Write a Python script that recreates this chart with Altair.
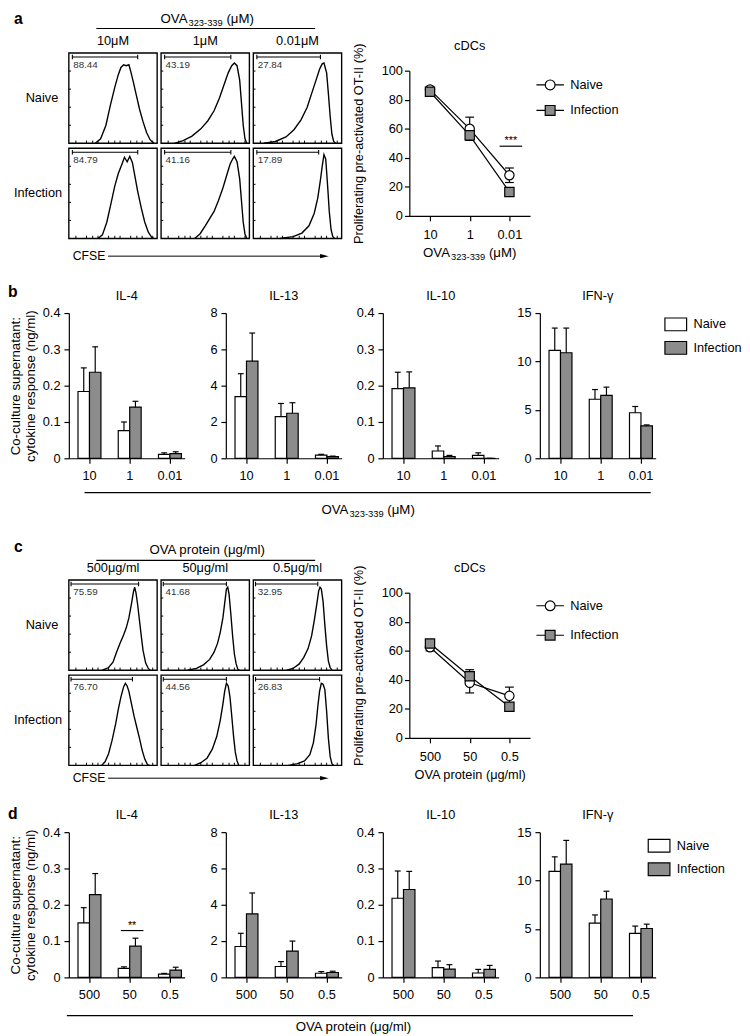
import altair as alt
import pandas as pd

FONT = "Liberation Sans"
GREY = "#8c8c8c"
LW = 1.2

# ---------------- data ----------------
groups = ["Naive", "Infection"]
pep_conc = ["10", "1", "0.01"]
prot_conc = ["500", "50", "0.5"]
pep_cols = ["10μM", "1μM", "0.01μM"]
prot_cols = ["500μg/ml", "50μg/ml", "0.5μg/ml"]
pep_main, pep_sub, pep_tail = "OVA", "323-339", "(μM)"
prot_title = "OVA protein (μg/ml)"
cytokines = ["IL-4", "IL-13", "IL-10", "IFN-γ"]
prolif_title = "Proliferating pre-activated OT-II (%)"
cyto_title = ["Co-culture supernatant:", "cytokine response (ng/ml)"]

# flow cytometry gates (% proliferating)
a_pct_naive = ["88.44", "43.19", "27.84"]
a_pct_inf = ["84.79", "41.16", "17.89"]
c_pct_naive = ["75.59", "41.68", "32.95"]
c_pct_inf = ["76.70", "44.56", "26.83"]
a_gate_start = 0.04
c_gate_start = 0.025
a_gate_naive = [0.78, 0.79, 0.76]
a_gate_inf = [0.78, 0.79, 0.74]
c_gate_naive = [0.79, 0.74, 0.73]
c_gate_inf = [0.72, 0.74, 0.75]
cfse_ticks = [0.08, 0.2, 0.27, 0.33, 0.45, 0.52, 0.58, 0.7, 0.77, 0.83, 0.95]
count_ticks = [0.2, 0.4, 0.6, 0.8]

# CFSE histograms (normalised position, normalised count)
h_a_n10_x = [0.30, 0.36, 0.42, 0.47, 0.52, 0.56, 0.59, 0.62, 0.65, 0.68, 0.70, 0.73, 0.76, 0.80, 0.84, 0.88, 0.92, 0.96]
h_a_n10_y = [0, 0.05, 0.2, 0.42, 0.62, 0.76, 0.84, 0.87, 0.86, 0.87, 0.8, 0.68, 0.55, 0.38, 0.24, 0.12, 0.04, 0]
h_a_n1_x = [0.15, 0.25, 0.35, 0.45, 0.53, 0.60, 0.66, 0.71, 0.76, 0.80, 0.83, 0.86, 0.89, 0.91, 0.93, 0.95, 0.97]
h_a_n1_y = [0, 0.03, 0.08, 0.16, 0.25, 0.36, 0.5, 0.64, 0.78, 0.86, 0.89, 0.86, 0.7, 0.45, 0.2, 0.05, 0]
h_a_n001_x = [0.12, 0.25, 0.37, 0.46, 0.54, 0.61, 0.66, 0.71, 0.75, 0.78, 0.80, 0.83, 0.85, 0.87, 0.89, 0.91, 0.93]
h_a_n001_y = [0, 0.02, 0.07, 0.15, 0.26, 0.4, 0.55, 0.7, 0.82, 0.88, 0.89, 0.78, 0.55, 0.3, 0.1, 0.02, 0]
h_a_i10_x = [0.33, 0.38, 0.43, 0.48, 0.52, 0.56, 0.60, 0.63, 0.66, 0.69, 0.72, 0.75, 0.78, 0.82, 0.86, 0.90, 0.94, 0.96]
h_a_i10_y = [0, 0.04, 0.18, 0.4, 0.58, 0.72, 0.82, 0.9, 0.85, 0.91, 0.84, 0.68, 0.52, 0.34, 0.18, 0.07, 0.01, 0]
h_a_i1_x = [0.38, 0.44, 0.50, 0.55, 0.60, 0.65, 0.70, 0.74, 0.78, 0.81, 0.83, 0.86, 0.89, 0.91, 0.93, 0.95, 0.97]
h_a_i1_y = [0, 0.05, 0.14, 0.22, 0.3, 0.42, 0.56, 0.69, 0.82, 0.88, 0.91, 0.85, 0.66, 0.42, 0.18, 0.05, 0]
h_a_i001_x = [0.30, 0.45, 0.55, 0.63, 0.69, 0.73, 0.76, 0.78, 0.80, 0.82, 0.84, 0.86, 0.88, 0.90, 0.92]
h_a_i001_y = [0, 0.02, 0.06, 0.14, 0.28, 0.45, 0.65, 0.8, 0.93, 0.88, 0.6, 0.3, 0.1, 0.02, 0]

h_c_n500_x = [0.38, 0.45, 0.50, 0.54, 0.58, 0.62, 0.65, 0.68, 0.71, 0.73, 0.745, 0.76, 0.78, 0.80, 0.82, 0.84, 0.87, 0.90, 0.92]
h_c_n500_y = [0, 0.03, 0.09, 0.2, 0.3, 0.39, 0.47, 0.58, 0.74, 0.86, 0.92, 0.86, 0.72, 0.55, 0.38, 0.22, 0.08, 0.02, 0]
h_c_n50_x = [0.30, 0.40, 0.48, 0.55, 0.60, 0.64, 0.67, 0.70, 0.72, 0.74, 0.755, 0.77, 0.79, 0.81, 0.83, 0.85, 0.87, 0.89]
h_c_n50_y = [0, 0.02, 0.06, 0.12, 0.2, 0.3, 0.42, 0.58, 0.74, 0.9, 0.92, 0.84, 0.62, 0.38, 0.18, 0.07, 0.01, 0]
h_c_n05_x = [0.38, 0.45, 0.52, 0.57, 0.62, 0.66, 0.69, 0.72, 0.74, 0.755, 0.77, 0.79, 0.81, 0.83, 0.85, 0.87, 0.89]
h_c_n05_y = [0, 0.02, 0.07, 0.14, 0.24, 0.38, 0.55, 0.74, 0.88, 0.92, 0.9, 0.76, 0.5, 0.27, 0.1, 0.03, 0]
h_c_i500_x = [0.37, 0.41, 0.45, 0.49, 0.53, 0.56, 0.59, 0.62, 0.64, 0.66, 0.68, 0.71, 0.74, 0.77, 0.80, 0.83, 0.86, 0.89, 0.91]
h_c_i500_y = [0, 0.04, 0.13, 0.28, 0.46, 0.62, 0.76, 0.87, 0.91, 0.88, 0.82, 0.68, 0.54, 0.42, 0.3, 0.17, 0.07, 0.01, 0]
h_c_i50_x = [0.38, 0.45, 0.52, 0.58, 0.63, 0.67, 0.70, 0.72, 0.74, 0.76, 0.78, 0.80, 0.82, 0.84, 0.86, 0.88]
h_c_i50_y = [0, 0.03, 0.08, 0.18, 0.32, 0.5, 0.68, 0.82, 0.91, 0.88, 0.76, 0.55, 0.33, 0.15, 0.05, 0]
h_c_i05_x = [0.40, 0.50, 0.58, 0.64, 0.68, 0.71, 0.73, 0.75, 0.77, 0.79, 0.81, 0.83, 0.85, 0.87, 0.89, 0.91]
h_c_i05_y = [0, 0.02, 0.05, 0.12, 0.25, 0.45, 0.65, 0.82, 0.91, 0.9, 0.84, 0.6, 0.3, 0.1, 0.02, 0]

# a / c: proliferating pre-activated OT-II (%), mean and SEM
a_naive = [87, 60, 28]
a_naive_err = [1.5, 8, 5]
a_inf = [85.5, 55.5, 16.5]
a_inf_err = [1.5, 2.5, 1.5]
c_naive = [62.5, 38, 29]
c_naive_err = [2.5, 7, 6]
c_inf = [65, 42.5, 21.5]
c_inf_err = [2, 4.5, 1.5]
a_sig = {"label": "***", "line": 48, "text": 49.5}

# b: cytokines (ng/ml) with peptide
b_il4_naive = [0.184, 0.076, 0.011]
b_il4_naive_err = [0.065, 0.024, 0.004]
b_il4_inf = [0.237, 0.141, 0.013]
b_il4_inf_err = [0.07, 0.016, 0.005]
b_il13_naive = [3.4, 2.3, 0.17]
b_il13_naive_err = [1.26, 0.72, 0.05]
b_il13_inf = [5.35, 2.48, 0.09]
b_il13_inf_err = [1.55, 0.58, 0.03]
b_il10_naive = [0.192, 0.02, 0.008]
b_il10_naive_err = [0.045, 0.014, 0.007]
b_il10_inf = [0.194, 0.005, 0.0]
b_il10_inf_err = [0.044, 0.003, 0.0]
b_ifng_naive = [11.15, 6.1, 4.7]
b_ifng_naive_err = [2.3, 1.0, 0.65]
b_ifng_inf = [10.9, 6.5, 3.35]
b_ifng_inf_err = [2.55, 0.85, 0.1]

# d: cytokines (ng/ml) with OVA protein
d_il4_naive = [0.15, 0.025, 0.009]
d_il4_naive_err = [0.042, 0.004, 0.002]
d_il4_inf = [0.228, 0.086, 0.02]
d_il4_inf_err = [0.058, 0.022, 0.008]
d_il13_naive = [1.7, 0.6, 0.23]
d_il13_naive_err = [0.73, 0.27, 0.09]
d_il13_inf = [3.5, 1.45, 0.27]
d_il13_inf_err = [1.15, 0.55, 0.07]
d_il10_naive = [0.218, 0.027, 0.012]
d_il10_naive_err = [0.075, 0.018, 0.01]
d_il10_inf = [0.242, 0.023, 0.022]
d_il10_inf_err = [0.05, 0.012, 0.011]
d_ifng_naive = [10.95, 5.6, 4.55]
d_ifng_naive_err = [1.5, 0.85, 0.75]
d_ifng_inf = [11.7, 8.1, 5.05]
d_ifng_inf_err = [2.45, 0.8, 0.45]
d_sig = {"label": "**", "line": 0.129, "text": 0.132}

# ---------------- shapes / helpers ----------------
CIRCLE_STUB = "M-2.8,0L-1,0M1,0L2.8,0M-1,0A1,1,0,1,1,1,0A1,1,0,1,1,-1,0Z"
SQUARE_STUB = "M-2.8,0L-1,0M1,0L2.8,0M-1,-1L1,-1L1,1L-1,1Z"
RECT_SYM = "M-1.7,-1L1.7,-1L1.7,1L-1.7,1Z"
ARROW = "M-1,-0.55L1.2,0L-1,0.55Z"

# Arial / Liberation Sans advance widths (em) for the subscripted label
CHAR_W = {"O": 0.778, "V": 0.667, "A": 0.667, "-": 0.333, " ": 0.278, "(": 0.333,
          ")": 0.333, "μ": 0.576, "M": 0.833}
for _d in "0123456789":
    CHAR_W[_d] = 0.556


def text_w(s, fs):
    return sum(CHAR_W.get(ch, 0.556) for ch in s) * fs


def deco_text(txt, x, y, size=13, align="center", baseline="middle", weight="normal"):
    return alt.Chart().mark_text(text=txt, fontSize=size, align=align, baseline=baseline,
                                 fontWeight=weight, color="black").encode(
        x=alt.value(x), y=alt.value(y))


def deco_rule(x1, x2, y):
    return alt.Chart().mark_rule(color="black", strokeWidth=LW).encode(
        x=alt.value(x1), x2=alt.value(x2), y=alt.value(y))


def sub_label(cx, cy, fs=13.5, fss=9.5):
    """'OVA' + subscript '323-339' + ' (μM)' centred at (cx, cy)."""
    w1 = text_w(pep_main, fs)
    w2 = text_w(pep_sub, fss)
    w3 = text_w(" " + pep_tail, fs)
    x0 = cx - (w1 + w2 + w3) / 2
    base = cy + 0.36 * fs
    return [
        deco_text(pep_main, x0, base, fs, align="left", baseline="alphabetic"),
        deco_text(pep_sub, x0 + w1, base + 3, fss, align="left", baseline="alphabetic"),
        deco_text(pep_tail, x0 + w1 + w2 + text_w(" ", fs), base, fs, align="left",
                  baseline="alphabetic"),
    ]


def sig_layers(sig, x1, x2, Y):
    df = pd.DataFrame({"line": [sig["line"]], "text": [sig["text"]], "label": [sig["label"]]})
    return [
        alt.Chart(df).mark_rule(color="black", strokeWidth=LW).encode(
            x=alt.value(x1), x2=alt.value(x2), y=Y("line")),
        alt.Chart(df).mark_text(fontSize=11, baseline="alphabetic", color="black").encode(
            x=alt.value((x1 + x2) / 2), y=Y("text"), text="label:N"),
    ]


# ---------------- flow block ----------------
FW, FH = 278, 189
GX = 1 + 4 / 90
GY = 1 + 5 / 92
FLW = 1.4


def flow_block(hists, gate_st, gate_n, gate_i, pct_n, pct_i, col_labels, header_layers,
               letter, letter_y, uline_y, cfse_y, T):
    # T: px from the panels' top edge down to the plot-area top shared with the line chart
    xs = alt.Scale(domain=[0, 2 * GX + 1], nice=False, zero=False)
    ys = alt.Scale(domain=[0, GY + 1], range=[FH - T, -T], nice=False, zero=False)

    def X(f):
        return alt.X(f, type="quantitative", scale=xs, axis=None)

    def Y(f):
        return alt.Y(f, type="quantitative", scale=ys, axis=None)

    curve, frames, gates, pcts, bt, lt = [], [], [], [], [], []
    for r in range(2):
        base_y = (1 - r) * GY
        for c in range(3):
            x0 = c * GX
            hx, hy = hists[r][c]
            for i, (a, b) in enumerate(zip(hx, hy)):
                curve.append({"panel": f"{r}{c}", "i": i, "X": x0 + a, "Y": base_y + b})
            frames.append({"x0": x0, "x1": x0 + 1, "y0": base_y, "y1": base_y + 1})
            ge = (gate_n if r == 0 else gate_i)[c]
            gates.append({"xs": x0 + gate_st, "xe": x0 + ge, "yg": base_y + 0.955,
                          "yl": base_y + 0.93, "yh": base_y + 0.98})
            pcts.append({"X": x0 + 0.05, "Y": base_y + 0.865,
                         "label": (pct_n if r == 0 else pct_i)[c]})
            for t in cfse_ticks:
                bt.append({"X": x0 + t, "Y": base_y, "Y2": base_y + 0.03})
            for t in count_ticks:
                lt.append({"X": x0, "X2": x0 + 0.025, "Y": base_y + t})
    cols_df = pd.DataFrame({"X": [c * GX + 0.5 for c in range(3)],
                            "Y": [GY + 1 + 12 / 92] * 3, "label": col_labels})
    rows_df = pd.DataFrame({"X": [-44 / 90, -56 / 90], "Y": [GY + 0.5, 0.5], "label": groups})

    layers = [
        alt.Chart(pd.DataFrame(frames)).mark_rect(fillOpacity=0, stroke="black", strokeWidth=FLW).encode(
            x=X("x0"), x2=alt.X2("x1"), y=Y("y0"), y2=alt.Y2("y1")),
        alt.Chart(pd.DataFrame(bt)).mark_rule(color="black", strokeWidth=1).encode(
            x=X("X"), y=Y("Y"), y2=alt.Y2("Y2")),
        alt.Chart(pd.DataFrame(lt)).mark_rule(color="black", strokeWidth=1).encode(
            x=X("X"), x2=alt.X2("X2"), y=Y("Y")),
        alt.Chart(pd.DataFrame(curve)).mark_line(color="black", strokeWidth=FLW).encode(
            x=X("X"), y=Y("Y"), detail="panel:N", order="i:Q"),
        alt.Chart(pd.DataFrame(gates)).mark_rule(color="black", strokeWidth=1.1).encode(
            x=X("xs"), x2=alt.X2("xe"), y=Y("yg")),
        alt.Chart(pd.DataFrame(gates)).mark_rule(color="black", strokeWidth=1.1).encode(
            x=X("xs"), y=Y("yl"), y2=alt.Y2("yh")),
        alt.Chart(pd.DataFrame(gates)).mark_rule(color="black", strokeWidth=1.1).encode(
            x=X("xe"), y=Y("yl"), y2=alt.Y2("yh")),
        alt.Chart(pd.DataFrame(pcts)).mark_text(align="left", baseline="middle", fontSize=10,
                                                color="#333333").encode(
            x=X("X"), y=Y("Y"), text="label:N"),
        alt.Chart(cols_df).mark_text(align="center", baseline="middle", fontSize=13, color="black").encode(
            x=X("X"), y=Y("Y"), text="label:N"),
        alt.Chart(rows_df).mark_text(align="left", baseline="middle", fontSize=13, color="black").encode(
            x=X("X"), y=Y("Y"), text="label:N"),
        deco_rule(28, 251, uline_y - T),
        deco_text(letter, -56, letter_y - T, size=16, align="left", weight="bold"),
        deco_text("CFSE", 4, cfse_y - T, size=12.5, align="left"),
        alt.Chart().mark_rule(color="black", strokeWidth=1).encode(
            x=alt.value(40), x2=alt.value(258), y=alt.value(cfse_y - T)),
        alt.Chart().mark_point(shape=ARROW, filled=True, size=64, color="black", opacity=1).encode(
            x=alt.value(260), y=alt.value(cfse_y - T)),
    ] + list(header_layers)
    return alt.layer(*layers).properties(width=FW, height=FH - T)


# ---------------- line chart ----------------
LWID, LH = 123, 148


def line_panel(concs, naive, naive_err, inf, inf_err, xtitle, leg_x, leg_y, row_pad,
               sig=None, extras=()):
    vals = naive + inf
    errs = naive_err + inf_err
    df = pd.DataFrame({
        "conc": list(concs) * 2,
        "group": [groups[0]] * 3 + [groups[1]] * 3,
        "value": vals,
        "lo": [v - e for v, e in zip(vals, errs)],
        "hi": [v + e for v, e in zip(vals, errs)],
    })
    xenc = alt.X("conc:N", sort=list(concs),
                 scale=alt.Scale(type="point", domain=list(concs), padding=0.52),
                 axis=alt.Axis(title=xtitle, labelAngle=0, labelPadding=8, titlePadding=5))
    ys = alt.Scale(domain=[0, 100], nice=False, zero=True)
    yaxis = alt.Axis(values=[0, 20, 40, 60, 80, 100], title=prolif_title, labelPadding=2,
                     titlePadding=16, format="d", labelOverlap=False)

    def Y(f):
        return alt.Y(f, type="quantitative", scale=ys, axis=yaxis)

    base = alt.Chart(df)
    leg = alt.Legend(title=None, orient="none", legendX=leg_x, legendY=leg_y, labelOffset=14,
                     rowPadding=row_pad, symbolSize=100, symbolStrokeColor="black",
                     symbolStrokeWidth=LW, labelFontSize=13, padding=0, labelColor="black")
    layers = [
        base.mark_rule(color="black", strokeWidth=LW).encode(x=xenc, y=Y("lo"), y2=alt.Y2("hi")),
        base.mark_tick(color="black", size=9, thickness=LW, opacity=1).encode(x=xenc, y=Y("hi")),
        base.mark_tick(color="black", size=9, thickness=LW, opacity=1).encode(x=xenc, y=Y("lo")),
        base.mark_line(color="black", strokeWidth=LW).encode(x=xenc, y=Y("value"), detail="group:N"),
        base.mark_point(filled=True, size=90, stroke="black", strokeWidth=LW, opacity=1).encode(
            x=xenc, y=Y("value"),
            fill=alt.Fill("group:N", scale=alt.Scale(domain=groups, range=["white", GREY]), legend=None),
            shape=alt.Shape("group:N", scale=alt.Scale(domain=groups, range=["circle", "square"]),
                            legend=None)),
        base.mark_point(filled=True, size=100, strokeWidth=LW, opacity=1).encode(
            fill=alt.Fill("group:N", scale=alt.Scale(domain=groups, range=["white", GREY]), legend=leg),
            shape=alt.Shape("group:N", scale=alt.Scale(domain=groups, range=[CIRCLE_STUB, SQUARE_STUB]),
                            legend=leg),
            stroke=alt.Stroke("group:N", scale=alt.Scale(domain=groups, range=["black", "black"]),
                              legend=leg)).transform_filter("false"),
        deco_text("cDCs", LWID / 2, -25, size=13),
    ]
    if sig is not None:
        layers += sig_layers(sig, 92, 115, Y)
    layers += list(extras)
    return alt.layer(*layers).resolve_scale(fill="independent", shape="independent",
                                            stroke="independent").properties(width=LWID, height=LH)


# ---------------- bar chart ----------------
BW, BH = 118, 148


def bar_panel(concs, naive, naive_err, inf, inf_err, ymax, yticks, title, ytitle=None,
              legend=None, sig=None, extras=()):
    vals = naive + inf
    errs = naive_err + inf_err
    df = pd.DataFrame({
        "conc": list(concs) * 2,
        "group": [groups[0]] * 3 + [groups[1]] * 3,
        "value": vals,
        "hi": [v + e for v, e in zip(vals, errs)],
    })
    xenc = alt.X("conc:N", sort=list(concs),
                 scale=alt.Scale(domain=list(concs), paddingInner=0.43, paddingOuter=0.154, align=0.74),
                 axis=alt.Axis(title=None, labelAngle=0, labelPadding=7))
    xo = alt.XOffset("group:N", sort=groups,
                     scale=alt.Scale(domain=groups, paddingInner=0, paddingOuter=0))
    ys = alt.Scale(domain=[0, ymax], nice=False, zero=True)
    if ytitle is not None:
        yaxis = alt.Axis(values=yticks, format="~g", title=ytitle, labelPadding=4, titlePadding=5,
                         titleLineHeight=15, titleFontSize=13.5, labelOverlap=False)
    else:
        yaxis = alt.Axis(values=yticks, format="~g", title=None, labelPadding=4, labelOverlap=False)

    def Y(f):
        return alt.Y(f, type="quantitative", scale=ys, axis=yaxis)

    base = alt.Chart(df)
    fill = alt.Fill("group:N", scale=alt.Scale(domain=groups, range=["white", GREY]),
                    legend=legend)
    layers = [
        base.mark_bar(stroke="black", strokeWidth=LW, opacity=1).encode(
            x=xenc, xOffset=xo, y=Y("value"), fill=fill),
        base.mark_rule(color="black", strokeWidth=LW).encode(
            x=xenc, xOffset=xo, y=Y("value"), y2=alt.Y2("hi")),
        base.mark_tick(color="black", size=6, thickness=LW, opacity=1).encode(
            x=xenc, xOffset=xo, y=Y("hi")),
        deco_text(title, BW / 2, -17, size=13),
    ]
    if sig is not None:
        layers += sig_layers(sig, 53, 76, Y)
    layers += list(extras)
    return alt.layer(*layers).properties(width=BW, height=BH)


def bar_legend(lx, ly):
    return alt.Legend(title=None, orient="none", legendX=lx, legendY=ly, symbolType=RECT_SYM,
                      symbolSize=169, symbolStrokeColor="black", symbolStrokeWidth=LW,
                      labelOffset=10.5, rowPadding=5, labelFontSize=13, padding=0,
                      labelColor="black")


# ---------------- assemble ----------------
TA, TC = 18, 13

flowA = flow_block(
    [[(h_a_n10_x, h_a_n10_y), (h_a_n1_x, h_a_n1_y), (h_a_n001_x, h_a_n001_y)],
     [(h_a_i10_x, h_a_i10_y), (h_a_i1_x, h_a_i1_y), (h_a_i001_x, h_a_i001_y)]],
    a_gate_start, a_gate_naive, a_gate_inf, a_pct_naive, a_pct_inf, pep_cols,
    sub_label(141, -35.5 - TA),
    "a", -35, -25, 207, TA)

lineA = line_panel(pep_conc, a_naive, a_naive_err, a_inf, a_inf_err, None, 137, 8, 11,
                   sig=a_sig, extras=sub_label(LWID / 2, 185))

flowC = flow_block(
    [[(h_c_n500_x, h_c_n500_y), (h_c_n50_x, h_c_n50_y), (h_c_n05_x, h_c_n05_y)],
     [(h_c_i500_x, h_c_i500_y), (h_c_i50_x, h_c_i50_y), (h_c_i05_x, h_c_i05_y)]],
    c_gate_start, c_gate_naive, c_gate_inf, c_pct_naive, c_pct_inf, prot_cols,
    [deco_text(prot_title, 141, -30 - TC, size=13.5)],
    "c", -33, -20, 202, TC)

lineC = line_panel(prot_conc, c_naive, c_naive_err, c_inf, c_inf_err, prot_title, 137, 6.8, 15)

b_charts = [
    bar_panel(pep_conc, b_il4_naive, b_il4_naive_err, b_il4_inf, b_il4_inf_err, 0.4,
              [0, 0.1, 0.2, 0.3, 0.4], cytokines[0], ytitle=cyto_title,
              extras=[deco_text("b", -62, -21, size=16, align="left", weight="bold"),
                      deco_rule(16, 593, 183)] + sub_label(305, 199.5)),
    bar_panel(pep_conc, b_il13_naive, b_il13_naive_err, b_il13_inf, b_il13_inf_err, 8,
              [0, 2, 4, 6, 8], cytokines[1]),
    bar_panel(pep_conc, b_il10_naive, b_il10_naive_err, b_il10_inf, b_il10_inf_err, 0.4,
              [0, 0.1, 0.2, 0.3, 0.4], cytokines[2]),
    bar_panel(pep_conc, b_ifng_naive, b_ifng_naive_err, b_ifng_inf, b_ifng_inf_err, 15,
              [0, 5, 10, 15], cytokines[3], legend=bar_legend(131, 4)),
]

d_charts = [
    bar_panel(prot_conc, d_il4_naive, d_il4_naive_err, d_il4_inf, d_il4_inf_err, 0.4,
              [0, 0.1, 0.2, 0.3, 0.4], cytokines[0], ytitle=cyto_title, sig=d_sig,
              extras=[deco_text("d", -62, -18, size=16, align="left", weight="bold"),
                      deco_rule(-2, 575, 187),
                      deco_text(prot_title, 290, 199, size=13.5)]),
    bar_panel(prot_conc, d_il13_naive, d_il13_naive_err, d_il13_inf, d_il13_inf_err, 8,
              [0, 2, 4, 6, 8], cytokines[1]),
    bar_panel(prot_conc, d_il10_naive, d_il10_naive_err, d_il10_inf, d_il10_inf_err, 0.4,
              [0, 0.1, 0.2, 0.3, 0.4], cytokines[2]),
    bar_panel(prot_conc, d_ifng_naive, d_ifng_naive_err, d_ifng_inf, d_ifng_inf_err, 15,
              [0, 5, 10, 15], cytokines[3], legend=bar_legend(114, 6.3)),
]

RES = dict(fill="independent", shape="independent", stroke="independent", xOffset="independent")

rowA = alt.hconcat(flowA, lineA, spacing=69, bounds="flush").resolve_scale(**RES)
rowB = alt.hconcat(*b_charts, spacing=42, bounds="flush").resolve_scale(**RES)
rowC = alt.hconcat(flowC, lineC, spacing=69, bounds="flush").resolve_scale(**RES)
rowD = alt.hconcat(*d_charts, spacing=42, bounds="flush").resolve_scale(**RES)

chart = alt.vconcat(rowA, rowB, rowC, rowD, spacing=22).resolve_scale(**RES).properties(
    padding={"top": -7, "left": 0, "right": 0, "bottom": 0}
).configure(font=FONT).configure_view(stroke=None).configure_axis(
    domainColor="black", tickColor="black", labelColor="black", titleColor="black",
    grid=False, labelFont=FONT, titleFont=FONT, labelFontSize=13, titleFontSize=13,
    titleFontWeight="normal", domainWidth=LW, tickWidth=LW, tickSize=5
).configure_legend(labelFont=FONT)

chart.save("out.html", embed_options={"renderer": "svg", "actions": False})
